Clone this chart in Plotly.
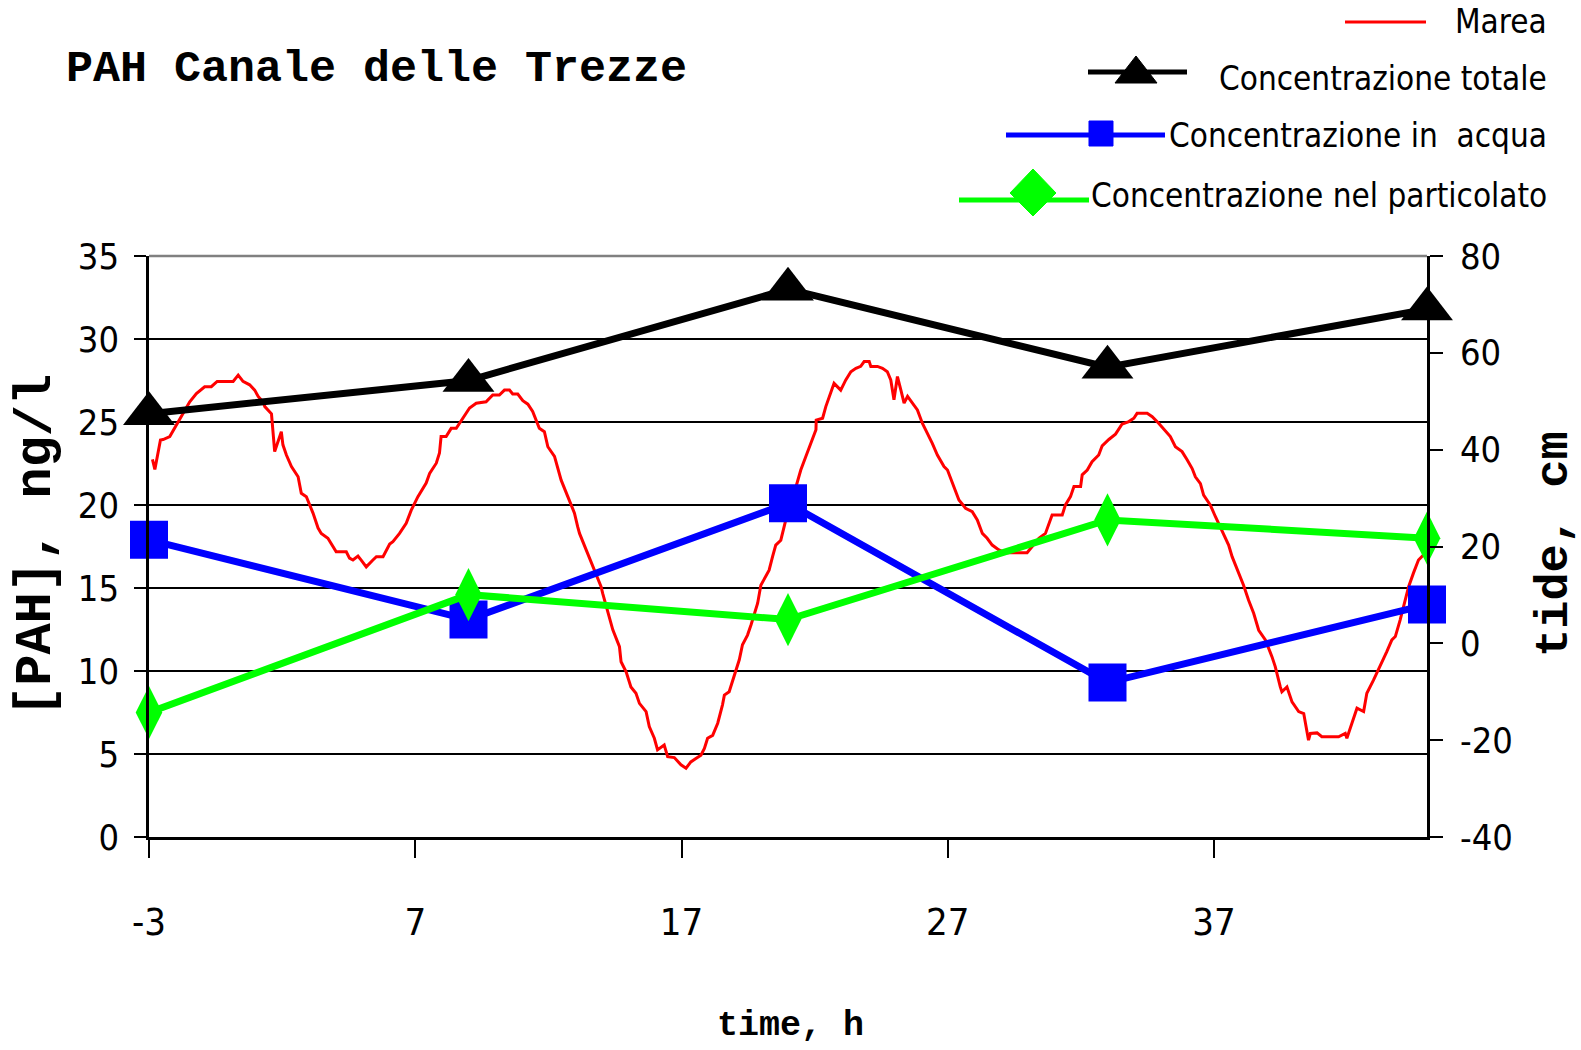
import plotly.graph_objects as go

W, H = 1581, 1050

# ---------------- data ----------------
sample_hours = [-3, 9, 21, 33, 45]
conc_total = [25.5, 27.5, 33.0, 28.3, 31.8]
conc_water = [17.9, 13.1, 20.1, 9.3, 14.0]
conc_particulate = [7.5, 14.6, 13.1, 19.1, 18.0]

tide_hours = [
    -2.87, -2.78, -2.57, -2.47, -2.22, -1.97, -1.78, -1.47, -1.22, -0.91, -0.66, -0.44,
    0.16, 0.35, 0.53, 0.78, 0.97, 1.10, 1.28, 1.35, 1.60, 1.72, 1.97, 2.03, 2.16, 2.35,
    2.60, 2.72, 2.91, 3.16, 3.35, 3.47, 3.72, 4.03, 4.41, 4.53, 4.66, 4.85, 4.97, 5.16,
    5.41, 5.54, 5.79, 6.04, 6.16, 6.41, 6.66, 6.85, 7.10, 7.41, 7.54, 7.79, 7.91, 7.97,
    8.16, 8.35, 8.54, 8.73, 9.04, 9.29, 9.66, 9.91, 10.16, 10.35, 10.54, 10.66, 10.85,
    11.04, 11.23, 11.41, 11.66, 11.85, 11.98, 12.23, 12.42,
    12.48, 12.73, 12.98, 13.10, 13.17, 13.42, 13.67, 13.79, 13.98, 14.04, 14.17, 14.42,
    14.67, 14.73, 14.92, 15.10, 15.29, 15.42, 15.67, 15.79, 15.98, 16.10, 16.35, 16.48,
    16.73, 16.98, 17.17, 17.35, 17.54, 17.73, 17.86, 17.98, 18.17, 18.36, 18.54, 18.61,
    18.79, 18.98, 19.17, 19.29, 19.48, 19.61, 19.86, 19.98, 20.11, 20.29, 20.42, 20.54,
    20.73, 20.86, 20.98, 21.23, 21.36, 21.48, 21.67, 21.80, 22.05, 22.06, 22.30, 22.42,
    22.61, 22.73, 22.98, 23.17, 23.36, 23.55, 23.73, 23.86, 24.05, 24.11, 24.36, 24.55,
    24.73, 24.86, 24.98, 25.11, 25.24, 25.36, 25.49, 25.67, 25.86, 26.05, 26.24, 26.42,
    26.61, 26.86, 26.99, 27.17, 27.42,
    27.67, 27.92, 28.11, 28.30, 28.48, 28.67, 28.92, 29.17, 29.55, 29.98, 30.17, 30.42,
    30.67, 30.92, 31.30, 31.42, 31.61, 31.74, 31.99, 32.05, 32.24, 32.42, 32.67, 32.80,
    33.05, 33.30, 33.55, 33.80, 33.99, 34.11, 34.49, 34.68, 34.93, 35.18, 35.36, 35.55,
    35.80, 35.99, 36.18, 36.30, 36.49, 36.61, 36.86, 37.05, 37.30, 37.55, 37.68, 37.93,
    38.11, 38.30, 38.49, 38.68, 38.93, 39.18, 39.30, 39.49, 39.55, 39.74, 39.93, 40.18,
    40.37, 40.55, 40.62, 40.87, 41.05, 41.37, 41.68, 41.93, 41.99, 42.18, 42.37, 42.62,
    42.74, 42.99, 43.24, 43.49, 43.68, 43.81, 43.99, 44.12, 44.31, 44.49, 44.68, 45.0,
]
tide_cm = [
    38.0, 35.9, 42.0, 42.1, 42.7, 45.1, 46.8, 49.9, 51.6, 53.0, 53.0, 54.1,
    54.1, 55.4, 54.1, 53.4, 52.3, 51.0, 49.9, 48.9, 47.4, 39.6, 43.7, 41.0, 38.9, 36.5,
    34.4, 31.0, 30.3, 26.9, 23.8, 22.7, 21.7, 18.9, 18.9, 17.6, 17.2, 18.0, 17.2, 15.8,
    17.2, 17.9, 17.9, 20.5, 21.0, 22.7, 24.8, 27.5, 30.3, 33.1, 35.1, 37.2, 39.3, 42.7,
    42.7, 44.4, 44.4, 46.1, 48.6, 49.6, 49.9, 51.3, 51.3, 52.3, 52.3, 51.5, 51.5,
    50.1, 49.4, 47.9, 44.4, 43.7, 40.6, 38.6, 34.4,
    33.7, 30.3, 26.9, 24.1, 22.7, 19.3, 15.8, 14.5, 11.7, 10.3, 7.6, 2.8,
    -0.7, -3.8, -5.9, -9.0, -10.3, -12.4, -14.1, -17.2, -19.6, -22.0, -21.0, -23.4,
    -23.6, -25.1, -25.8, -24.5, -23.8, -23.1, -21.7, -19.6, -19.0, -16.5, -12.7, -10.7,
    -10.0, -6.5, -3.4, -0.3, 1.7, 3.8, 8.3, 12.0, 13.4, 15.1, 17.9, 20.3,
    21.3, 24.4, 26.9, 31.0, 33.7, 35.8, 38.6, 40.6, 44.1, 46.1, 46.5, 48.9,
    51.6, 53.7, 52.3, 54.4, 56.1, 56.8, 57.2, 58.2, 58.2, 57.2, 57.2, 56.8,
    56.1, 54.4, 50.3, 55.1, 52.3, 49.6, 51.0, 49.6, 48.2, 45.4, 43.4, 41.3,
    38.9, 36.5, 35.8, 33.1, 29.6,
    27.9, 27.2, 25.5, 22.7, 21.7, 20.3, 19.3, 18.7, 18.7, 18.7, 20.0, 21.7,
    22.7, 26.5, 26.5, 28.6, 30.3, 32.4, 32.4, 34.8, 35.8, 37.5, 38.9, 40.8,
    42.1, 43.2, 45.3, 45.8, 46.5, 47.5, 47.5, 46.8, 45.4, 43.7, 42.7, 40.6,
    39.6, 37.9, 36.1, 34.4, 33.0, 30.6, 28.6, 26.2, 23.4, 20.3, 17.9, 14.5,
    12.0, 8.9, 6.2, 2.7, 0.7, -2.8, -4.8, -9.0, -10.0, -9.0, -12.1, -14.1,
    -14.5, -20.0, -18.6, -18.5, -19.3, -19.3, -19.3, -18.6, -19.6, -16.5, -13.4, -14.1,
    -10.3, -7.6, -4.8, -1.7, 0.7, 1.4, 4.8, 7.6, 11.7, 14.5, 17.2, 19.0,
]

x_tick_vals = [-3, 7, 17, 27, 37]
x_tick_text = ["-3", "7", "17", "27", "37"]
left_tick_vals = [0, 5, 10, 15, 20, 25, 30, 35]
left_tick_text = ["0", "5", "10", "15", "20", "25", "30", "35"]
right_tick_vals = [-40, -20, 0, 20, 40, 60, 80]
right_tick_text = ["-40", "-20", "0", "20", "40", "60", "80"]

series_names = ["Marea", "Concentrazione totale",
                "Concentrazione in\u00a0 acqua", "Concentrazione nel particolato"]
title_text = "PAH Canale delle Trezze"
x_title = "time, h"
y_left_title = "[PAH], ng/l"
y_right_title = "tide, cm"

# ---------------- styling ----------------
NARROW = "DejaVu Sans Condensed, Liberation Sans Narrow, sans-serif"
MONO = "Liberation Mono, Courier New, monospace"
RED, BLACK, BLUE, GREEN = "#ff0000", "#000000", "#0000ff", "#00ff00"

PL, PR, PT, PB = 149, 1427, 256, 837  # plot area in pixels


def px(X):
    return X / W


def py(Y):
    return 1 - Y / H


fig = go.Figure()

fig.add_trace(go.Scatter(x=tide_hours, y=tide_cm, mode="lines", name=series_names[0],
                         line=dict(color=RED, width=3), yaxis="y", xaxis="x"))
fig.add_trace(go.Scatter(x=sample_hours, y=conc_total, mode="lines+markers", name=series_names[1],
                         line=dict(color=BLACK, width=7), cliponaxis=False,
                         marker=dict(symbol="triangle-up", size=45, color=BLACK), yaxis="y2"))
fig.add_trace(go.Scatter(x=sample_hours, y=conc_water, mode="lines+markers", name=series_names[2],
                         line=dict(color=BLUE, width=7), cliponaxis=False,
                         marker=dict(symbol="square", size=38, color=BLUE), yaxis="y2"))
fig.add_trace(go.Scatter(x=sample_hours, y=conc_particulate, mode="lines+markers", name=series_names[3],
                         line=dict(color=GREEN, width=7), cliponaxis=False,
                         marker=dict(symbol="diamond-tall", size=38, color=GREEN), yaxis="y2"))

fig.update_layout(
    template="none",
    width=W, height=H, autosize=False,
    margin=dict(l=0, r=0, t=0, b=0, pad=0),
    paper_bgcolor="white", plot_bgcolor="white",
    showlegend=False,
    xaxis=dict(domain=[px(PL), px(PR)], range=[-3, 45], anchor="y", automargin=False,
               tickmode="array", tickvals=x_tick_vals, ticktext=x_tick_text,
               ticks="outside", ticklen=18, tickwidth=2, tickcolor=BLACK,
               showline=True, linecolor=BLACK, linewidth=2.5,
               showgrid=False, zeroline=False,
               tickfont=dict(family=NARROW, size=38, color=BLACK),
               ticklabelstandoff=32),
    yaxis=dict(domain=[py(PB), py(PT)], range=[-40, 80], anchor="x", side="right",
               automargin=False,
               tickmode="array", tickvals=right_tick_vals, ticktext=right_tick_text,
               ticks="outside", ticklen=13, tickwidth=2, tickcolor=BLACK,
               showline=True, linecolor=BLACK, linewidth=2.5,
               showgrid=False, zeroline=False,
               tickfont=dict(family=NARROW, size=36, color=BLACK),
               ticklabelstandoff=10),
    yaxis2=dict(overlaying="y", range=[0, 35], anchor="x", side="left", automargin=False,
                tickmode="array", tickvals=left_tick_vals, ticktext=left_tick_text,
                ticks="outside", ticklen=12, tickwidth=2, tickcolor=BLACK,
                showline=True, linecolor=BLACK, linewidth=2.5,
                showgrid=True, gridcolor=BLACK, gridwidth=1.5, zeroline=False,
                tickfont=dict(family=NARROW, size=36, color=BLACK),
                ticklabelstandoff=8),
)

# gray top border of plot area
fig.add_shape(type="line", xref="x domain", yref="y domain", x0=0, x1=1, y0=1, y1=1,
              line=dict(color="#808080", width=2.5), layer="below")

# ---------------- titles ----------------
ann = []
ann.append(dict(text=title_text, x=px(376), y=py(69), xref="paper", yref="paper",
                xanchor="center", yanchor="middle", showarrow=False,
                font=dict(family=MONO, size=45, color=BLACK, weight="bold")))
ann.append(dict(text=y_left_title, x=px(36), y=py(546), xref="paper", yref="paper",
                xanchor="center", yanchor="middle", showarrow=False, textangle=-90,
                font=dict(family=MONO, size=52, color=BLACK, weight="bold")))
ann.append(dict(text=y_right_title, x=px(1554), y=py(544), xref="paper", yref="paper",
                xanchor="center", yanchor="middle", showarrow=False, textangle=-90,
                font=dict(family=MONO, size=47, color=BLACK, weight="bold")))
ann.append(dict(text=x_title, x=px(790), y=py(1026), xref="paper", yref="paper",
                xanchor="center", yanchor="middle", showarrow=False,
                font=dict(family=MONO, size=35, color=BLACK, weight="bold")))

# ---------------- manual legend ----------------
legend_text_y = [22, 79, 136, 196]
for name, ty in zip(series_names, legend_text_y):
    ann.append(dict(text=name, x=px(1549), y=py(ty), xref="paper", yref="paper",
                    xanchor="right", yanchor="middle", showarrow=False,
                    font=dict(family=NARROW, size=33, color=BLACK)))
fig.update_layout(annotations=ann)


def seg(x0, x1, y, color, width):
    fig.add_shape(type="line", xref="paper", yref="paper",
                  x0=px(x0), x1=px(x1), y0=py(y), y1=py(y),
                  line=dict(color=color, width=width))


def poly(points, color):
    d = "M " + " L ".join(f"{px(a):.5f},{py(b):.5f}" for a, b in points) + " Z"
    fig.add_shape(type="path", xref="paper", yref="paper", path=d,
                  fillcolor=color, line=dict(color=color, width=1))


seg(1345, 1426, 22, RED, 3)
seg(1088, 1187, 72, BLACK, 5)
poly([(1136, 56), (1157, 83), (1115, 83)], BLACK)
seg(1006, 1165, 135, BLUE, 5)
poly([(1089, 121), (1113, 121), (1113, 146), (1089, 146)], BLUE)
seg(959, 1089, 200, GREEN, 5)
poly([(1033, 169), (1056, 193), (1033, 216), (1010, 193)], GREEN)

fig.write_html("out.html", config={"displayModeBar": False},
               post_script="document.body.style.margin='0';")
